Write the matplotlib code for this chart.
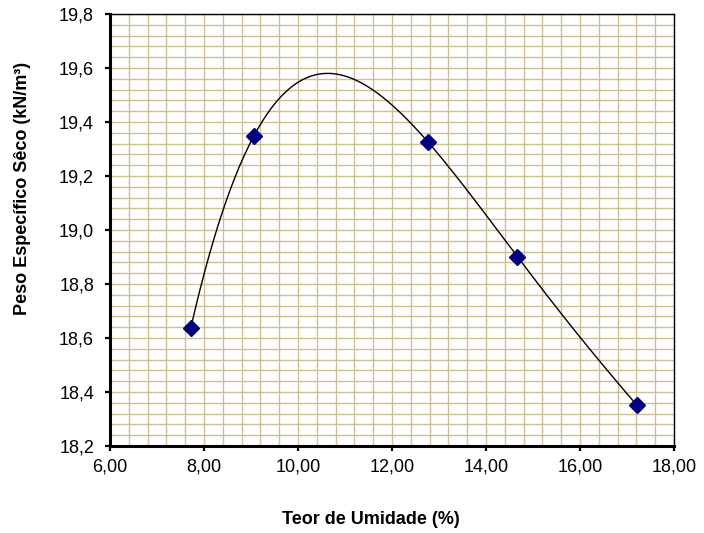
import numpy as np
import matplotlib.pyplot as plt
from matplotlib.ticker import MultipleLocator, FuncFormatter

plt.rcParams['font.family'] = ['Liberation Sans', 'DejaVu Sans']

# pontos do ensaio de compactacao
umidade = [7.72, 9.06, 12.76, 14.67, 17.21]
peso_seco = [18.638, 19.348, 19.327, 18.901, 18.351]

# curva de tendencia (polinomio de grau 4)
coef = np.polyfit(umidade, peso_seco, 4)
xc = np.linspace(min(umidade), max(umidade), 300)
yc = np.polyval(coef, xc)

W, H = 704, 533
fig = plt.figure(figsize=(W / 100, H / 100), dpi=100)
ax = fig.add_axes([110 / W, 1 - 446 / H, 564 / W, 432 / H])

ax.plot(xc, yc, color='black', lw=1.0, zorder=3)
ax.plot(umidade, peso_seco, 'D', color='#000080', markersize=8, zorder=4)

ax.set_xlim(6, 18)
ax.set_ylim(18.2, 19.8)
ax.xaxis.set_major_locator(MultipleLocator(2))
ax.yaxis.set_major_locator(MultipleLocator(0.2))
ax.xaxis.set_minor_locator(MultipleLocator(0.4))
ax.yaxis.set_minor_locator(MultipleLocator(0.04))
ax.xaxis.set_major_formatter(FuncFormatter(lambda v, p: f'{v:.2f}'.replace('.', ',')))
ax.yaxis.set_major_formatter(FuncFormatter(lambda v, p: f'{v:.1f}'.replace('.', ',')))

ax.grid(which='both', color='#CDBF96', lw=1.0, zorder=0)
ax.set_axisbelow(True)
ax.tick_params(which='minor', length=0)
ax.tick_params(which='major', direction='out', length=3.5, width=1.6, labelsize=13)
ax.tick_params(axis='x', pad=5.5)
ax.tick_params(axis='y', pad=8)

for s in ['left', 'bottom']:
    ax.spines[s].set_linewidth(2.2)
for s in ['top', 'right']:
    ax.spines[s].set_linewidth(1.0)

# titulos dos eixos (posicao como no grafico original)
fig.text(371 / W, 1 - 520 / H, 'Teor de Umidade (%)', fontsize=13, fontweight='bold',
         ha='center', va='center')
fig.text(23 / W, 1 - 188 / H, 'Peso Específico Sêco (kN/m³)', fontsize=13, fontweight='bold',
         ha='center', va='center', rotation=90)

fig.savefig('out.png', dpi=100)
